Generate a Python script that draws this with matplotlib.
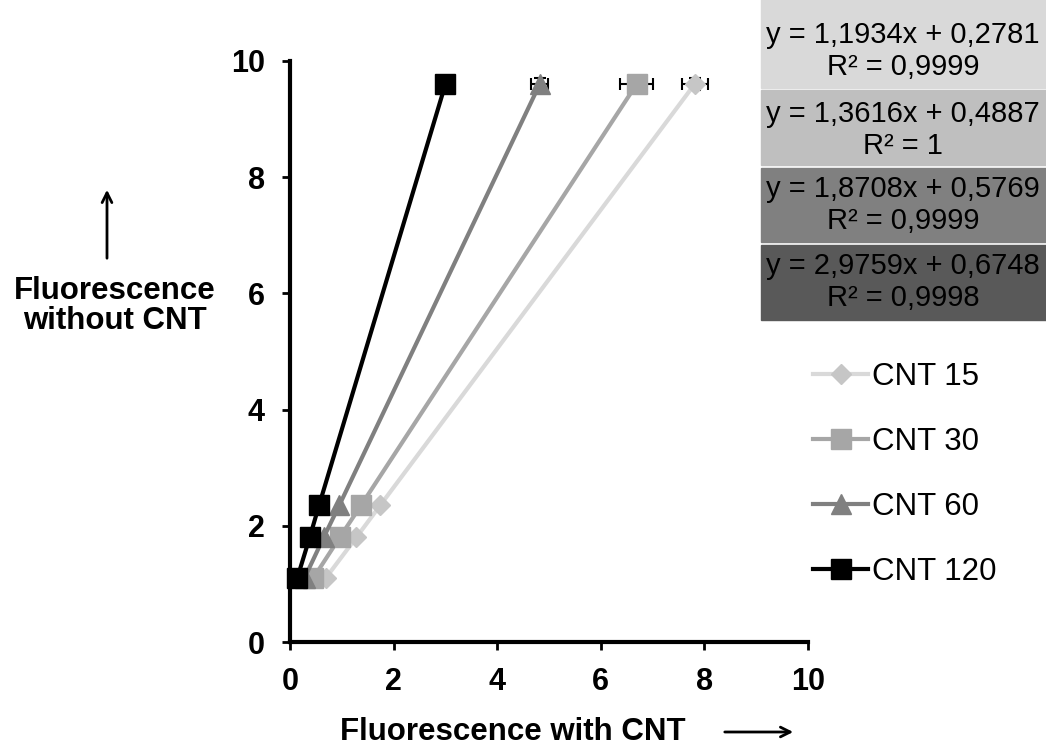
import matplotlib.pyplot as plt
import numpy as np

plt.rcParams['font.family'] = ['Liberation Sans', 'DejaVu Sans']

# data
y_without = [1.1, 1.8, 2.35, 9.6]
x_cnt15 = [0.69, 1.28, 1.74, 7.81]
x_cnt30 = [0.45, 0.96, 1.37, 6.69]
x_cnt60 = [0.28, 0.65, 0.95, 4.82]
x_cnt120 = [0.14, 0.38, 0.56, 3.0]
xerr_top = [0.25, 0.32, 0.17, 0.0]
yerr_top = [0.1, 0.0, 0.1, 0.0]

labels = ['CNT 15', 'CNT 30', 'CNT 60', 'CNT 120']
line_colors = ['#D9D9D9', '#A6A6A6', '#808080', '#000000']
marker_colors = ['#C6C6C6', '#A6A6A6', '#808080', '#000000']
markers = ['D', 's', '^', 's']
msizes = [10, 14, 14, 14]
equations = ['y = 1,1934x + 0,2781\nR² = 0,9999',
             'y = 1,3616x + 0,4887\nR² = 1',
             'y = 1,8708x + 0,5769\nR² = 0,9999',
             'y = 2,9759x + 0,6748\nR² = 0,9998']
box_colors = ['#D9D9D9', '#BFBFBF', '#808080', '#595959']

W, H = 1046, 749
fig = plt.figure(figsize=(W/100, H/100), dpi=100)
ax = fig.add_axes([290/W, 1-642/H, 518/W, 581/H])

series = [x_cnt15, x_cnt30, x_cnt60, x_cnt120]
for i, xs in enumerate(series):
    ax.plot(xs, y_without, color=line_colors[i], lw=3, marker=markers[i],
            ms=msizes[i], mfc=marker_colors[i], mec=marker_colors[i],
            label=labels[i], zorder=3 + i, clip_on=False)
    if xerr_top[i] or yerr_top[i]:
        ax.errorbar([xs[-1]], [y_without[-1]], xerr=[xerr_top[i]],
                    yerr=[yerr_top[i]] if yerr_top[i] else None,
                    fmt='none', ecolor='black', elinewidth=1.5, capsize=4,
                    capthick=1.5, zorder=2 + i)

ax.set_xlim(0, 10)
ax.set_ylim(0, 10)
ax.set_xticks(np.arange(0, 11, 2))
ax.set_yticks(np.arange(0, 11, 2))
for s in ['top', 'right']:
    ax.spines[s].set_visible(False)
for s in ['left', 'bottom']:
    ax.spines[s].set_linewidth(3)
ax.tick_params(width=2, length=6, labelsize=22, pad=12)
for t in ax.get_xticklabels() + ax.get_yticklabels():
    t.set_fontweight('bold')

leg = ax.legend(loc='upper left', bbox_to_anchor=(813/W, 1-362/H),
                bbox_transform=fig.transFigure, frameon=False, fontsize=22.5,
                handlelength=1.76, labelspacing=1.12, handletextpad=0.13,
                borderaxespad=0, borderpad=0)

# equation boxes
tops = [-14, 90, 168, 245]
bots = [88, 165, 242, 320]
text_mid = [51, 130, 205, 282]
for i in range(4):
    y0 = 1 - bots[i]/H
    h = (bots[i] - tops[i])/H
    fig.patches.append(plt.Rectangle((761/W, y0), 285/W, h,
                                     transform=fig.transFigure,
                                     color=box_colors[i]))
    fig.text(903/W, 1 - text_mid[i]/H, equations[i], ha='center',
             va='center', fontsize=21, linespacing=1.15)

fig.text(513/W, 1-732/H, 'Fluorescence with CNT', fontsize=22.5,
         fontweight='bold', ha='center', va='center')
ax.annotate('', xy=(796/W, 1-732/H), xytext=(722/W, 1-732/H),
            xycoords='figure fraction', annotation_clip=False,
            arrowprops=dict(arrowstyle='->,head_length=0.7,head_width=0.35',
                            lw=2, color='black'))
fig.text(115/W, 1-306/H, 'Fluorescence\nwithout CNT', fontsize=22.5,
         fontweight='bold', ha='center', va='center', linespacing=1.0)
ax.annotate('', xy=(107/W, 1-187/H), xytext=(107/W, 1-261/H),
            xycoords='figure fraction', annotation_clip=False,
            arrowprops=dict(arrowstyle='->,head_length=0.7,head_width=0.35',
                            lw=2, color='black'))

fig.savefig('out.png', dpi=100)
